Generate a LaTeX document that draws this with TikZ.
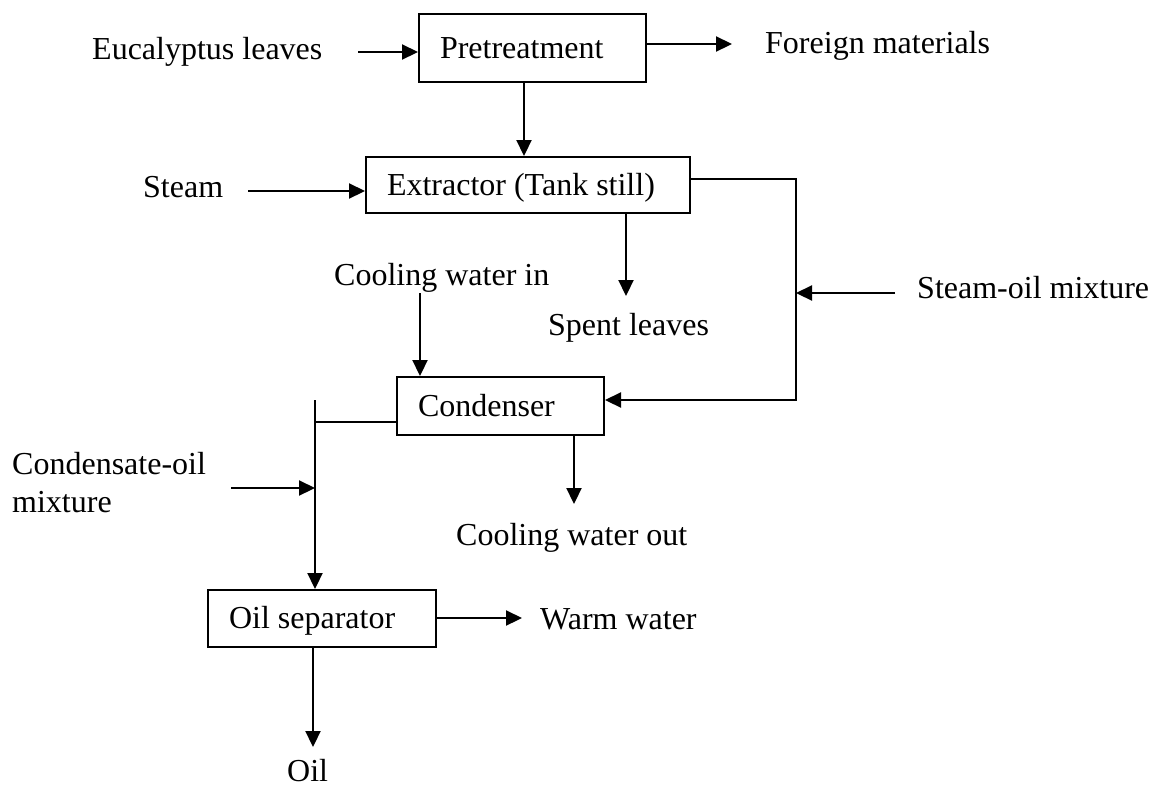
\documentclass[tikz,border=0pt]{standalone}
\usepackage{fontspec}
\setmainfont{Liberation Serif}
\usetikzlibrary{arrows.meta}
\begin{document}
\begin{tikzpicture}[x=1pt,y=-1pt,
  every node/.style={font=\fontsize{32}{38}\selectfont, inner sep=0pt},
  lbl/.style={anchor=base west},
  box/.style={draw, line width=2pt, inner xsep=21pt, inner ysep=0pt, text height=22pt, text depth=2pt},
  flow/.style={line width=2.2pt, -{Triangle[length=16pt,width=15pt]}},
  pipe/.style={line width=2pt}]
\useasboundingbox (0,0) rectangle (1152,788);
% process boxes
\node[box, minimum width=227pt, minimum height=68pt] (pre) at (532.5,48) {\makebox[185pt][l]{Pretreatment}};
\node[box, minimum width=324pt, minimum height=56pt] (ext) at (528,185) {\makebox[282pt][l]{Extractor (Tank still)}};
\node[box, minimum width=207pt, minimum height=58pt] (con) at (500.5,406) {\makebox[165pt][l]{Condenser}};
\node[box, minimum width=228pt, minimum height=57pt] (sep) at (322,618.5) {\makebox[186pt][l]{Oil separator}};
% labels
\node[lbl] (tEuc) at (92,59) {Eucalyptus leaves};
\node[lbl] (tFor) at (765,53) {Foreign materials};
\node[lbl] (tSteam) at (143,197) {Steam};
\node[lbl] (tCwIn) at (334,285) {Cooling water in};
\node[lbl] (tSpent) at (548,335) {Spent leaves};
\node[lbl] (tSoMix) at (917,298) {Steam-oil mixture};
\node[align=left, anchor=west] (tCoMix) at (12,483) {Condensate-oil\\mixture};
\node[lbl] (tCwOut) at (456,545) {Cooling water out};
\node[lbl] (tWarm) at (540,629) {Warm water};
\node[lbl] (tOil) at (287,781) {Oil};
% connectors
\coordinate (eIn) at (358,52);
\draw[flow] (eIn) -- (eIn -| pre.west);
\coordinate (fOut) at (732,44);
\draw[flow] (fOut -| pre.east) -- (fOut);
\coordinate (pDown) at (524,0);
\draw[flow] (pDown |- pre.south) -- (pDown |- ext.north);
\coordinate (sIn) at (248,191);
\draw[flow] (sIn) -- (sIn -| ext.west);
\coordinate (rTop) at (796,179);
\coordinate (rBot) at (796,400);
\draw[flow] (rTop -| ext.east) -- (rTop) -- (rBot) -- (rBot -| con.east);
\coordinate (soIn) at (895,293);
\draw[flow] (soIn) -- (soIn -| rTop);
\coordinate (slOut) at (626,296);
\draw[flow] (slOut |- ext.south) -- (slOut);
\coordinate (cwIn) at (420,293);
\draw[flow] (cwIn) -- (cwIn |- con.north);
\coordinate (cwOut) at (574,504);
\draw[flow] (cwOut |- con.south) -- (cwOut);
\coordinate (jTop) at (315,400);
\coordinate (jMid) at (315,422);
\draw[pipe] (jMid -| con.west) -- (jMid);
\draw[flow] (jTop) -- (jTop |- sep.north);
\coordinate (cmIn) at (231,488);
\draw[flow] (cmIn) -- (cmIn -| jTop);
\coordinate (wwOut) at (522,618);
\draw[flow] (wwOut -| sep.east) -- (wwOut);
\coordinate (oilOut) at (313,747);
\draw[flow] (oilOut |- sep.south) -- (oilOut);
\end{tikzpicture}
\end{document}
